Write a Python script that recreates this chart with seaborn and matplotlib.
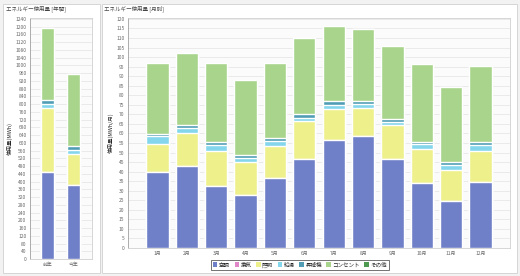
import numpy as np
import pandas as pd
import matplotlib
matplotlib.use("Agg")
import matplotlib.pyplot as plt
from matplotlib.patches import Patch, Rectangle
import seaborn as sns

categories = ["空調", "換気", "照明", "給湯", "昇降機", "コンセント", "その他"]
colors = ["#7080c8", "#e088c8", "#eef08c", "#84d6ec", "#4f9cb4", "#a8d48c", "#4e9a50"]

# annual (left chart)
years = ["前年", "今年"]
year_ac = [448, 380]
year_vent = [0, 0]
year_light = [330, 162]
year_water = [24, 22]
year_lift = [19, 17]
year_outlet = [371, 375]
year_other = [0, 0]

# monthly (right chart)
months = ["1月", "2月", "3月", "4月", "5月", "6月", "7月", "8月", "9月", "10月", "11月", "12月"]
m_ac = [39.6, 42.8, 32.3, 27.9, 36.5, 46.8, 56.8, 58.6, 46.7, 34.0, 24.4, 34.4]
m_vent = [0, 0, 0, 0, 0, 0, 0, 0, 0, 0, 0, 0]
m_light = [15.0, 17.5, 18.4, 17.0, 17.2, 19.7, 16.2, 14.9, 17.5, 18.0, 16.6, 16.6]
m_water = [4.0, 2.7, 3.3, 2.3, 2.2, 1.8, 1.7, 1.8, 1.8, 2.6, 2.7, 3.2]
m_lift = [1.2, 1.2, 1.6, 1.7, 1.5, 1.7, 2.3, 1.7, 1.4, 1.0, 1.4, 1.4]
m_outlet = [37.0, 38.0, 41.4, 39.0, 39.6, 40.0, 39.5, 37.7, 38.6, 40.7, 39.5, 39.8]
m_other = [0, 0, 0, 0, 0, 0, 0, 0, 0, 0, 0, 0]

sns.set_style("white")
plt.rcParams["font.family"] = ["Noto Sans CJK JP", "DejaVu Sans"]

fig = plt.figure(figsize=(5.2, 2.76), dpi=100)
fig.patch.set_facecolor("#f2f2f2")
for x0, w in [(3, 97), (102, 415)]:
    fig.patches.append(Rectangle((x0 / 520, 3 / 276), w / 520, 269 / 276, transform=fig.transFigure,
                                 facecolor="white", edgecolor="#d0d0d0", lw=0.6, zorder=-1))


def stacked(ax, labels, layers, width):
    df = pd.DataFrame(dict(zip(categories, layers)), index=labels)
    cum = df.cumsum(axis=1)
    for cat, col in reversed(list(zip(categories, colors))):
        sns.barplot(x=labels, y=cum[cat].values, color=col, width=width, saturation=1,
                    order=labels, ax=ax, zorder=2)


def style(ax, ymax, step):
    ax.set_facecolor("#fbfbfb")
    ax.set_yticks(np.arange(0, ymax + 1, step))
    ax.set_ylim(0, ymax + step * 0.1)
    ax.grid(axis="y", color="#e4e4e4", lw=0.5, zorder=0)
    ax.grid(axis="x", visible=False)
    for s in ax.spines.values():
        s.set_color("#d0d0d0")
        s.set_linewidth(0.6)
    ax.spines["left"].set_color("#a0a0a0")
    ax.tick_params(axis="both", labelsize=3.5, colors="#666666", length=1.5, width=0.4, pad=1)


ax1 = fig.add_axes([30 / 520, 1 - 259 / 276, 62 / 520, 241 / 276])
stacked(ax1, years, [year_ac, year_vent, year_light, year_water, year_lift, year_outlet, year_other], 0.5)
style(ax1, 1240, 40)
ax1.set_xlim(-0.65, 1.7)
ax1.set_ylabel("使用量(MWh)", fontsize=4, labelpad=2)
ax1.set_xlabel("")

ax2 = fig.add_axes([128 / 520, 1 - 248 / 276, 382 / 520, 230 / 276])
stacked(ax2, months, [m_ac, m_vent, m_light, m_water, m_lift, m_outlet, m_other], 0.76)
style(ax2, 120, 5)
ax2.set_xlim(-1, 12)
ax2.set_ylabel("使用量(MWh/月)", fontsize=4, labelpad=2)
ax2.set_xlabel("")

fig.text(6 / 520, 1 - 9 / 276, "エネルギー使用量 [年間]", fontsize=4, color="#444444", va="center")
fig.text(104 / 520, 1 - 9 / 276, "エネルギー使用量 [月別]", fontsize=4, color="#444444", va="center")

handles = [Patch(facecolor=c, edgecolor="none") for c in colors]
leg = fig.legend(handles, categories, loc="center", bbox_to_anchor=(300 / 520, 1 - 265 / 276),
                 ncol=7, fontsize=4, frameon=True, handlelength=0.8, handleheight=0.8,
                 handletextpad=0.3, columnspacing=0.8, borderpad=0.3, fancybox=False)
leg.get_frame().set_edgecolor("#333333")
leg.get_frame().set_linewidth(0.6)

fig.savefig("out.png", dpi=100, facecolor=fig.get_facecolor())
